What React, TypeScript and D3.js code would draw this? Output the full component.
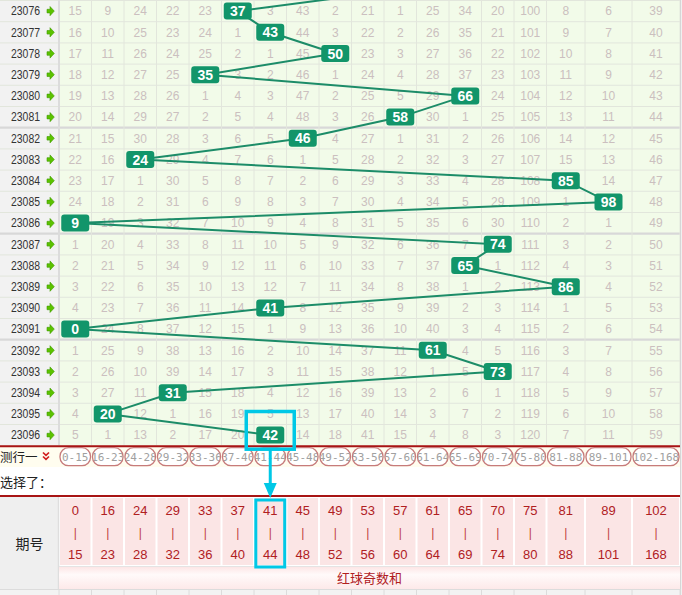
import React from 'react';
import * as d3 from 'd3';

const periods = ['23076','23077','23078','23079','23080','23081','23082','23083','23084','23085','23086','23087','23088','23089','23090','23091','23092','23093','23094','23095','23096'];
const hitValues = [37,43,50,35,66,58,46,24,85,98,9,74,65,86,41,0,61,73,31,20,42];
const prevHitValue = 58; // 23075, above the visible area
const rangeLows = [0,16,24,29,33,37,41,45,49,53,57,61,65,70,75,81,89,102];
const rangeHighs = [15,23,28,32,36,40,44,48,52,56,60,64,69,74,80,88,101,168];
const omissions: (number|null)[][] = [
  [15,9,24,22,23,null,3,43,2,21,1,25,34,20,100,8,6,39],
  [16,10,25,23,24,1,null,44,3,22,2,26,35,21,101,9,7,40],
  [17,11,26,24,25,2,1,45,null,23,3,27,36,22,102,10,8,41],
  [18,12,27,25,null,3,2,46,1,24,4,28,37,23,103,11,9,42],
  [19,13,28,26,1,4,3,47,2,25,5,29,null,24,104,12,10,43],
  [20,14,29,27,2,5,4,48,3,26,null,30,1,25,105,13,11,44],
  [21,15,30,28,3,6,5,null,4,27,1,31,2,26,106,14,12,45],
  [22,16,null,29,4,7,6,1,5,28,2,32,3,27,107,15,13,46],
  [23,17,1,30,5,8,7,2,6,29,3,33,4,28,108,null,14,47],
  [24,18,2,31,6,9,8,3,7,30,4,34,5,29,109,1,null,48],
  [null,19,3,32,7,10,9,4,8,31,5,35,6,30,110,2,1,49],
  [1,20,4,33,8,11,10,5,9,32,6,36,7,null,111,3,2,50],
  [2,21,5,34,9,12,11,6,10,33,7,37,null,1,112,4,3,51],
  [3,22,6,35,10,13,12,7,11,34,8,38,1,2,113,null,4,52],
  [4,23,7,36,11,14,null,8,12,35,9,39,2,3,114,1,5,53],
  [null,24,8,37,12,15,1,9,13,36,10,40,3,4,115,2,6,54],
  [1,25,9,38,13,16,2,10,14,37,11,null,4,5,116,3,7,55],
  [2,26,10,39,14,17,3,11,15,38,12,1,5,null,117,4,8,56],
  [3,27,11,null,15,18,4,12,16,39,13,2,6,1,118,5,9,57],
  [4,null,12,1,16,19,5,13,17,40,14,3,7,2,119,6,10,58],
  [5,1,13,2,17,20,null,14,18,41,15,4,8,3,120,7,11,59],
];
const highlightedPeriod = '23096';
const titleLabel = '红球奇数和';
const periodHeader = '期号';
const rowTitle = '测行一';
const selectLabel = '选择了：';

const W = 682, H = 595;
const labelW = 59;
const colWidths = [...d3.range(15).map(() => 32.5), 38.5, 47, 48];
const colEdges = [labelW, ...d3.cumsum(colWidths).map(v => labelW + v)];
const gridRight = colEdges[colEdges.length - 1];
const rowTop0 = 0.5, rowH = 21.2;
const gridBottom = rowTop0 + periods.length * rowH;

const colOf = d3.scaleThreshold<number, number>().domain(rangeLows.slice(1)).range(d3.range(rangeLows.length));
const y = d3.scaleLinear().domain([0, periods.length]).range([rowTop0, gridBottom]);
const colX = (i: number) => colEdges[i];
const colC = (i: number) => (colEdges[i] + colEdges[i + 1]) / 2;

const NUM_FONT = '"Liberation Sans", Arial, sans-serif';
const CJK_FONT = '"Noto Sans CJK SC", sans-serif';

export default function App() {
  const pts = [
    { x: colC(colOf(prevHitValue)), y: y(-0.5) },
    ...hitValues.map((v, i) => ({ x: colC(colOf(v)), y: y(i + 0.5) })),
  ];
  const line = d3.line<{x:number;y:number}>().x(d => d.x).y(d => d.y);

  const pillTop = gridBottom + 1.5;
  const pillRowBottom = 467;
  const selRowBottom = 495;
  const headTop = 497;
  const headBottom = 566;
  const sumBottom = 589;

  const hlIdx = periods.indexOf(highlightedPeriod);
  const hlCol = colOf(hitValues[hlIdx]);
  const hx = colC(hlCol);

  return (
    <div style={{ position: 'absolute', left: 0, top: 0 }}>
      <svg width={W} height={H} style={{ display: 'block' }}>
        <defs>
          <linearGradient id="sumGrad" x1="0" y1="0" x2="0" y2="1">
            <stop offset="0" stopColor="#fde6e6" />
            <stop offset="0.35" stopColor="#fffafa" />
            <stop offset="1" stopColor="#fde9e9" />
          </linearGradient>
          {colWidths.map((w, i) => (
            <clipPath id={`pc${i}`} key={i}>
              <rect x={colX(i) + 1.5} y={pillTop + 1} width={w - 3} height={17} rx={8} />
            </clipPath>
          ))}
        </defs>
        <rect x={0} y={0} width={W} height={H} fill="#ffffff" />

        {/* grid rows */}
        {periods.map((p, r) => (
          <g key={p}>
            <rect x={0} y={y(r)} width={labelW} height={rowH} fill="#f2f2f2" />
            <rect x={labelW} y={y(r)} width={gridRight - labelW} height={rowH} fill="#f2fbe9" />
            <text x={11} y={y(r + 0.5)} dy="0.36em" fontFamily={NUM_FONT} fontSize={12}
              textLength={29} lengthAdjust="spacingAndGlyphs" fill="#333">{p}</text>
            <path
              d={`M47,${y(r + 0.5) - 1.8} h3 v-2.8 l4.3,4.6 l-4.3,4.6 v-2.8 h-3 z`}
              fill="#5cc200" stroke="#3f9a00" strokeWidth={0.6}
            />
          </g>
        ))}
        {/* horizontal lines */}
        {d3.range(periods.length + 1).map(r => {
          const thick = r === 6 || r === 11 || r === 16;
          return (
            <line key={r} x1={0} x2={gridRight} y1={y(r)} y2={y(r)}
              stroke={thick ? '#d8d8d8' : '#e2e6dc'} strokeWidth={thick ? 2.2 : 1} />
          );
        })}
        {/* vertical lines */}
        {colEdges.map((x, i) => (
          <line key={i} x1={x} x2={x} y1={0} y2={gridBottom}
            stroke={i === 0 ? '#dcdcdc' : '#e2e6dc'} strokeWidth={i === 0 ? 2 : 1} />
        ))}
        <rect x={gridRight} y={0} width={W - gridRight} height={H} fill="#f0f0f0" />
        <line x1={gridRight + 0.5} x2={gridRight + 0.5} y1={0} y2={H} stroke="#d6d6d6" />

        {/* omission numbers */}
        {omissions.map((row, r) => row.map((v, c) => v === null ? null : (
          <text key={`${r}-${c}`} x={colC(c)} y={y(r + 0.5)} dy="0.36em" textAnchor="middle"
            fontFamily={NUM_FONT} fontSize={12} fill="#cbbfbf">{v}</text>
        )))}

        {/* trend line */}
        <path d={line(pts) || ''} fill="none" stroke="#1c8c68" strokeWidth={2} />

        {/* hit badges */}
        {hitValues.map((v, r) => {
          const c = colOf(v);
          return (
            <g key={r}>
              <rect x={colC(c) - 14} y={y(r + 0.5) - 8.5} width={28} height={17} rx={3} fill="#12956a" />
              <text x={colC(c)} y={y(r + 0.5)} dy="0.37em" textAnchor="middle" fontFamily={NUM_FONT}
                fontSize={14} fontWeight="bold" fill="#ffffff">{v}</text>
            </g>
          );
        })}

        {/* pill row */}
        <rect x={0} y={gridBottom} width={gridRight} height={pillRowBottom - gridBottom} fill="#fffdef" />
        <line x1={0} x2={gridRight} y1={gridBottom + 0.5} y2={gridBottom + 0.5} stroke="#a81414" strokeWidth={2} />
        <text x={0} y={457.5} dy="0.36em" fontFamily={CJK_FONT} fontSize={12.5} fill="#222">{rowTitle}</text>
        <path d="M43,452.5 l3,2.8 l3,-2.8 M43,456.5 l3,2.8 l3,-2.8" fill="none" stroke="#d11d1d" strokeWidth={1.7} />
        {colWidths.map((w, i) => (
          <g key={i}>
            <rect x={colX(i) + 1} y={pillTop + 0.5} width={w - 2} height={18} rx={8.5} fill="#ffffff" stroke="#c77b7b" strokeWidth={1.3} />
            <g clipPath={`url(#pc${i})`}>
              <text x={colC(i)} y={pillTop + 9.5} dy="0.36em" textAnchor="middle" fontFamily='"DejaVu Sans Mono", monospace'
                fontSize={11} fill="#a0a0a0">{`${rangeLows[i]}-${rangeHighs[i]}`}</text>
            </g>
          </g>
        ))}

        {/* selection row */}
        <rect x={0} y={pillRowBottom} width={gridRight} height={selRowBottom - pillRowBottom} fill="#ffffff" />
        <text x={0} y={482} dy="0.36em" fontFamily={CJK_FONT} fontSize={13} fill="#222">{selectLabel}</text>
        <line x1={0} x2={gridRight} y1={selRowBottom + 1} y2={selRowBottom + 1} stroke="#a81414" strokeWidth={2} />

        {/* header */}
        <rect x={0} y={headTop} width={labelW} height={sumBottom - headTop} fill="#efefef" />
        <line x1={labelW - 0.5} x2={labelW - 0.5} y1={headTop} y2={H} stroke="#dedede" strokeWidth={1.5} />
        <text x={labelW / 2} y={(headTop + sumBottom) / 2 + 1} dy="0.36em" textAnchor="middle" fontFamily={CJK_FONT} fontSize={14} fill="#222">{periodHeader}</text>
        {colWidths.map((w, i) => (
          <g key={i}>
            <rect x={colX(i) + 1} y={headTop + 1} width={w - 2} height={headBottom - headTop - 2} fill="#fbe5e5" />
            <text x={colC(i)} y={510} dy="0.36em" textAnchor="middle" fontFamily={NUM_FONT} fontSize={13} fill="#b0201f">{rangeLows[i]}</text>
            <text x={colC(i)} y={533} dy="0.36em" textAnchor="middle" fontFamily={NUM_FONT} fontSize={12} fill="#c04040">|</text>
            <text x={colC(i)} y={554} dy="0.36em" textAnchor="middle" fontFamily={NUM_FONT} fontSize={13} fill="#b0201f">{rangeHighs[i]}</text>
          </g>
        ))}
        <line x1={labelW} x2={gridRight} y1={headBottom + 0.5} y2={headBottom + 0.5} stroke="#e4e4e4" />
        <rect x={labelW} y={headBottom + 1} width={gridRight - labelW} height={sumBottom - headBottom - 1} fill="url(#sumGrad)" />
        <text x={(labelW + gridRight) / 2} y={578} dy="0.36em" textAnchor="middle" fontFamily={CJK_FONT} fontSize={13} fill="#b0201f">{titleLabel}</text>

        {/* bottom partial row */}
        <rect x={0} y={sumBottom} width={gridRight} height={H - sumBottom} fill="#f3f3f3" />
        <line x1={0} x2={gridRight} y1={sumBottom + 0.5} y2={sumBottom + 0.5} stroke="#dcdcdc" />
        {colEdges.map((x, i) => (
          <line key={i} x1={x} x2={x} y1={sumBottom} y2={H} stroke="#dcdcdc" />
        ))}

        {/* annotation */}
        <rect x={hx - 24} y={y(hlIdx) - 13} width={48} height={gridBottom + 3.5 - (y(hlIdx) - 13)} fill="none" stroke="#00c8e6" strokeWidth={3.5} />
        <rect x={colX(hlCol) + 1.8} y={headTop + 3} width={colWidths[hlCol] - 3.6} height={headBottom - headTop - 2} fill="none" stroke="#00c8e6" strokeWidth={3} />
        <rect x={hx - 1.5} y={gridBottom + 4} width={3} height={36} fill="#00c8e6" />
        <path d={`M${hx - 6.5},483 L${hx + 6.5},483 L${hx},498 Z`} fill="#00c8e6" />
      </svg>
    </div>
  );
}
